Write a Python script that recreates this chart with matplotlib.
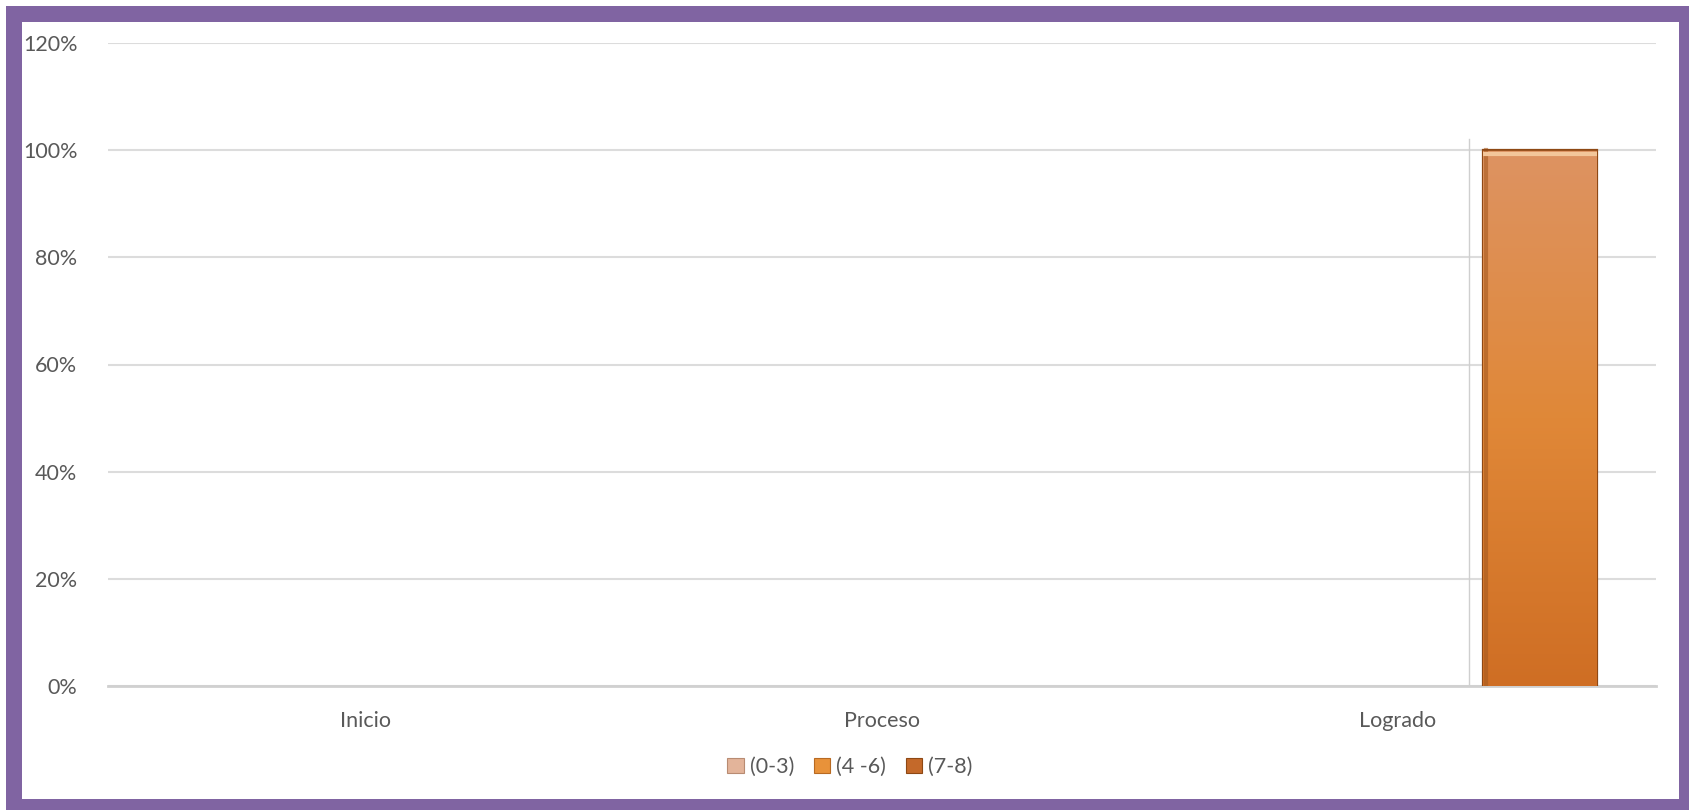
import matplotlib
matplotlib.use("Agg")
import matplotlib.pyplot as plt
import numpy as np
from matplotlib.patches import Rectangle, Patch
from matplotlib.ticker import PercentFormatter

# data
categories = ["Inicio", "Proceso", "Logrado"]
series_names = ["(0-3)", "(4 -6)", "(7-8)"]
values_0_3 = [0.0, 0.0, 0.0]
values_4_6 = [0.0, 0.0, 0.0]
values_7_8 = [0.0, 0.0, 1.0]
y_ticks = [0.0, 0.2, 0.4, 0.6, 0.8, 1.0, 1.2]

series_values = [values_0_3, values_4_6, values_7_8]
series_colors = ["#E3B49A", "#E8923A", "#C4692A"]
series_dark = ["#B88B72", "#B86A22", "#8E4814"]

plt.rcParams['font.family'] = ['Lato', 'DejaVu Sans']

W, H = 1690, 810
fig = plt.figure(figsize=(W / 100, H / 100), dpi=100)
fig.patch.set_facecolor("white")

# purple frame
fig.patches.append(Rectangle((6 / W, 0), 1, (H - 6) / H, transform=fig.transFigure,
                             facecolor="#8064A2", edgecolor="none", zorder=-10))
fig.patches.append(Rectangle((22 / W, 11 / H), (1679 - 22) / W, (799 - 22) / H,
                             transform=fig.transFigure, facecolor="white",
                             edgecolor="none", zorder=-9))

ax = fig.add_axes([108 / W, (H - 686) / H, 1548 / W, (686 - 43) / H])
ax.set_facecolor("none")
ax.set_zorder(5)

x = np.arange(len(categories))
bar_w = 0.276
offsets = [-bar_w, 0, bar_w]
cmap = matplotlib.colors.LinearSegmentedColormap.from_list(
    "bar", ["#CF6E24", "#E08838", "#DD9362"])

for vals, off, col, dark, name in zip(series_values, offsets, series_colors, series_dark, series_names):
    bars = ax.bar(x + off, vals, width=bar_w, color=col, edgecolor="#D6D6D6",
                  linewidth=1.0, zorder=3, label=name)
    for b in bars:
        h = b.get_height()
        if h <= 0:
            continue
        # the slot stays invisible, the bevelled body sits inside it
        b.set_facecolor("none")
        b.set_edgecolor("none")
        bx, bw = b.get_x(), b.get_width()
        inset = bw * 0.1
        body = ax.bar(bx + bw / 2, h, width=bw - 2 * inset, color="#D97A30",
                      edgecolor=dark, linewidth=1.6, zorder=4)[0]
        grad = np.linspace(0, 1, 256).reshape(-1, 1)
        img = ax.imshow(grad, extent=(bx + inset, bx + bw - inset, 0, h), origin="lower",
                        aspect="auto", cmap=cmap, zorder=4.5)
        img.set_clip_path(body)
        # dark shadow on left edge, light top bevel
        ax.plot([bx + inset * 1.15, bx + inset * 1.15], [0, h], color="#A65A20", lw=3,
                zorder=5, alpha=0.6)
        ax.plot([bx + inset, bx + bw - inset], [h * 0.993, h * 0.993], color="#F3C69A", lw=3,
                zorder=5, solid_capstyle="butt")
        ax.plot([bx + inset, bx + bw - inset], [h, h], color=dark, lw=1.2, zorder=5.5)
        ax.plot([bx, bx], [0, h * 1.02], color="#CFCFCF", lw=1.0, zorder=2)

ax.set_xlim(-0.5, len(categories) - 0.5)
ax.set_ylim(0, 1.2)
ax.set_yticks(y_ticks)
ax.yaxis.set_major_formatter(PercentFormatter(1.0, decimals=0))
ax.set_xticks(x)
ax.set_xticklabels(categories)

ax.grid(axis="y", color="#DCDCDC", linewidth=1.5, zorder=0)
ax.set_axisbelow(True)
for s in ["top", "right", "left"]:
    ax.spines[s].set_visible(False)
ax.spines["bottom"].set_color("#D0D0D0")
ax.spines["bottom"].set_linewidth(2)
ax.spines["bottom"].set_zorder(2)

ax.tick_params(axis="both", length=0, labelsize=15.5, labelcolor="#595959")
ax.tick_params(axis="y", pad=22)
ax.tick_params(axis="x", pad=18)

handles = [Patch(facecolor=c, edgecolor=d, linewidth=0.8) for c, d in zip(series_colors, series_dark)]
fig.legend(handles, series_names, loc="center", bbox_to_anchor=(850 / W, (H - 767) / H),
           ncol=3, frameon=False, fontsize=15.5, labelcolor="#595959",
           handlelength=0.75, handleheight=0.75, handletextpad=0.3, columnspacing=0.9)

fig.savefig("out.png", dpi=100, facecolor=fig.get_facecolor())
